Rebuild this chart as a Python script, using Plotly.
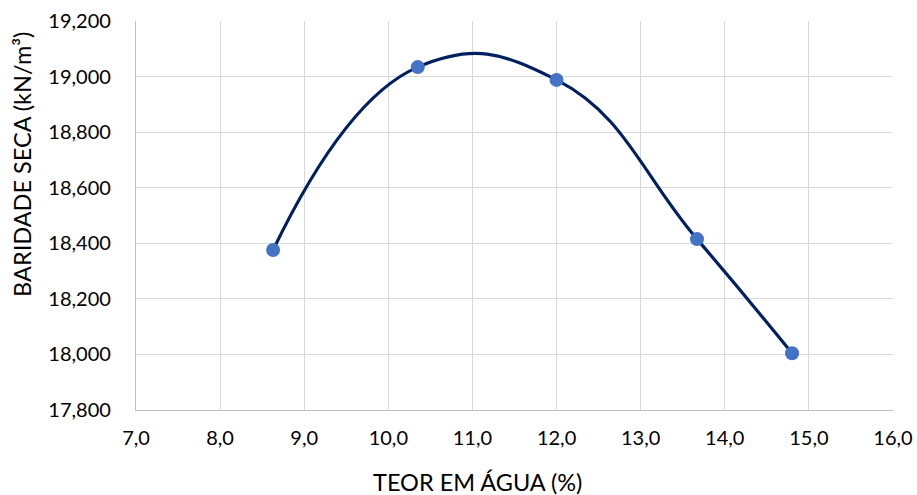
import plotly.graph_objects as go

# Compaction test: water content (%) vs dry unit weight (kN/m³)
teor_agua = [8.63, 10.35, 12.0, 13.67, 14.80]
baridade_seca = [18376, 19034, 18988, 18415, 18004]

x_ticks = [7, 8, 9, 10, 11, 12, 13, 14, 15, 16]
y_ticks = [17800, 18000, 18200, 18400, 18600, 18800, 19000, 19200]

FONT = "Lato"

fig = go.Figure()
fig.add_trace(go.Scatter(
    x=teor_agua,
    y=baridade_seca,
    mode="lines+markers",
    line=dict(color="#002060", width=3.2, shape="spline", smoothing=1.3),
    marker=dict(color="#4472C4", size=14),
    showlegend=False,
))

axis_style = dict(
    showgrid=True,
    gridcolor="#D9D9D9",
    gridwidth=1.3,
    zeroline=False,
    showline=True,
    linecolor="#BFBFBF",
    linewidth=1.3,
    ticks="",
    automargin=False,
)

fig.update_layout(
    width=917,
    height=495,
    margin=dict(l=136, r=24, t=21, b=85),
    paper_bgcolor="white",
    plot_bgcolor="white",
    separators=",,",
    font=dict(family=FONT, size=20, color="#000000"),
    xaxis=dict(range=[7, 16], tickvals=x_ticks, tickformat=".1f",
               ticklabelstandoff=10, **axis_style),
    yaxis=dict(range=[17800, 19200], tickvals=y_ticks, tickformat=",d",
               ticklabelstandoff=20, **axis_style),
    annotations=[
        dict(text="TEOR EM ÁGUA (%)", xref="paper", yref="paper",
             x=0.451, y=0, xanchor="center", yanchor="middle",
             yshift=-72, showarrow=False, font=dict(size=23.5)),
        dict(text="BARIDADE SECA (kN/m³)", xref="paper", yref="paper",
             x=0, y=0.63, xanchor="center", yanchor="middle", textangle=-90,
             xshift=-114, showarrow=False, font=dict(size=23.5)),
    ],
)

fig.write_html("out.html")
